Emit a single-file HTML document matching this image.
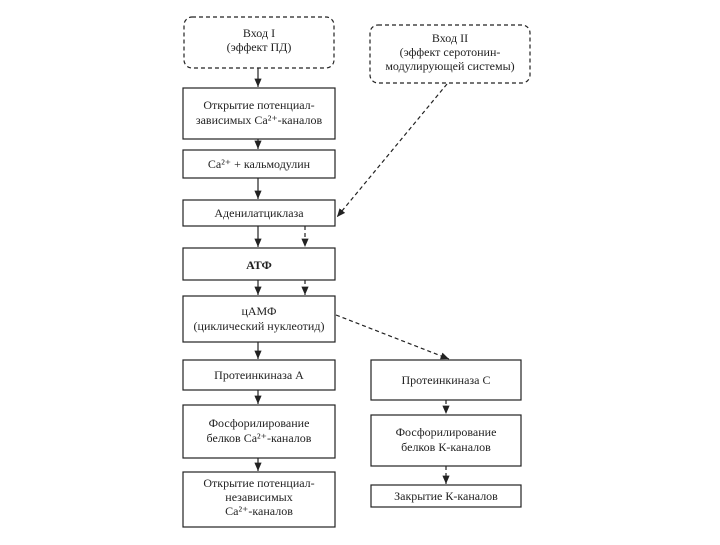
<!DOCTYPE html>
<html><head><meta charset="utf-8"><style>
body{margin:0;background:#fff}
svg text{font-family:"Liberation Serif",serif;font-size:12px;fill:#222;text-anchor:middle}
</style></head><body>
<svg width="720" height="540" viewBox="0 0 720 540">
<defs><marker id="a" markerWidth="8" markerHeight="8" refX="7" refY="4" orient="auto"><path d="M0,1 L7,4 L0,7" fill="#222"/></marker></defs>
<g fill="none" stroke="#222" stroke-width="1.2">
<rect x="184" y="17" width="150" height="51" rx="8" stroke-dasharray="4,3"/>
<rect x="370" y="25" width="160" height="58" rx="8" stroke-dasharray="4,3"/>
<rect x="183" y="88" width="152" height="51"/>
<rect x="183" y="150" width="152" height="28"/>
<rect x="183" y="200" width="152" height="26"/>
<rect x="183" y="248" width="152" height="32"/>
<rect x="183" y="296" width="152" height="46"/>
<rect x="183" y="360" width="152" height="30"/>
<rect x="183" y="405" width="152" height="53"/>
<rect x="183" y="472" width="152" height="55"/>
<rect x="371" y="360" width="150" height="40"/>
<rect x="371" y="415" width="150" height="51"/>
<rect x="371" y="485" width="150" height="22"/>
<g marker-end="url(#a)">
<line x1="258" y1="68" x2="258" y2="87"/>
<line x1="258" y1="139" x2="258" y2="149"/>
<line x1="258" y1="178" x2="258" y2="199"/>
<line x1="258" y1="226" x2="258" y2="247"/>
<line x1="258" y1="280" x2="258" y2="295"/>
<line x1="258" y1="342" x2="258" y2="359"/>
<line x1="258" y1="390" x2="258" y2="404"/>
<line x1="258" y1="458" x2="258" y2="471"/>
<g stroke-dasharray="4,3">
<line x1="305" y1="226" x2="305" y2="247"/>
<line x1="305" y1="280" x2="305" y2="295"/>
<line x1="447" y1="84" x2="337" y2="217"/>
<line x1="336" y1="315" x2="449" y2="359"/>
<line x1="446" y1="400" x2="446" y2="414"/>
<line x1="446" y1="466" x2="446" y2="484"/>
</g></g></g>
<text x="259" y="37">Вход I</text><text x="259" y="51">(эффект ПД)</text>
<text x="450" y="42">Вход II</text><text x="450" y="56">(эффект серотонин-</text><text x="450" y="70">модулирующей системы)</text>
<text x="259" y="109">Открытие потенциал-</text><text x="259" y="124">зависимых Ca²⁺-каналов</text>
<text x="259" y="168">Ca²⁺ + кальмодулин</text>
<text x="259" y="217">Аденилатциклаза</text>
<text x="259" y="269" font-weight="bold">АТФ</text>
<text x="259" y="315">цАМФ</text><text x="259" y="330">(циклический нуклеотид)</text>
<text x="259" y="379">Протеинкиназа А</text>
<text x="259" y="427">Фосфорилирование</text><text x="259" y="442">белков Ca²⁺-каналов</text>
<text x="259" y="487">Открытие потенциал-</text><text x="259" y="501">независимых</text><text x="259" y="515">Ca²⁺-каналов</text>
<text x="446" y="384">Протеинкиназа С</text>
<text x="446" y="436">Фосфорилирование</text><text x="446" y="451">белков К-каналов</text>
<text x="446" y="500">Закрытие К-каналов</text>
</svg>
</body></html>
